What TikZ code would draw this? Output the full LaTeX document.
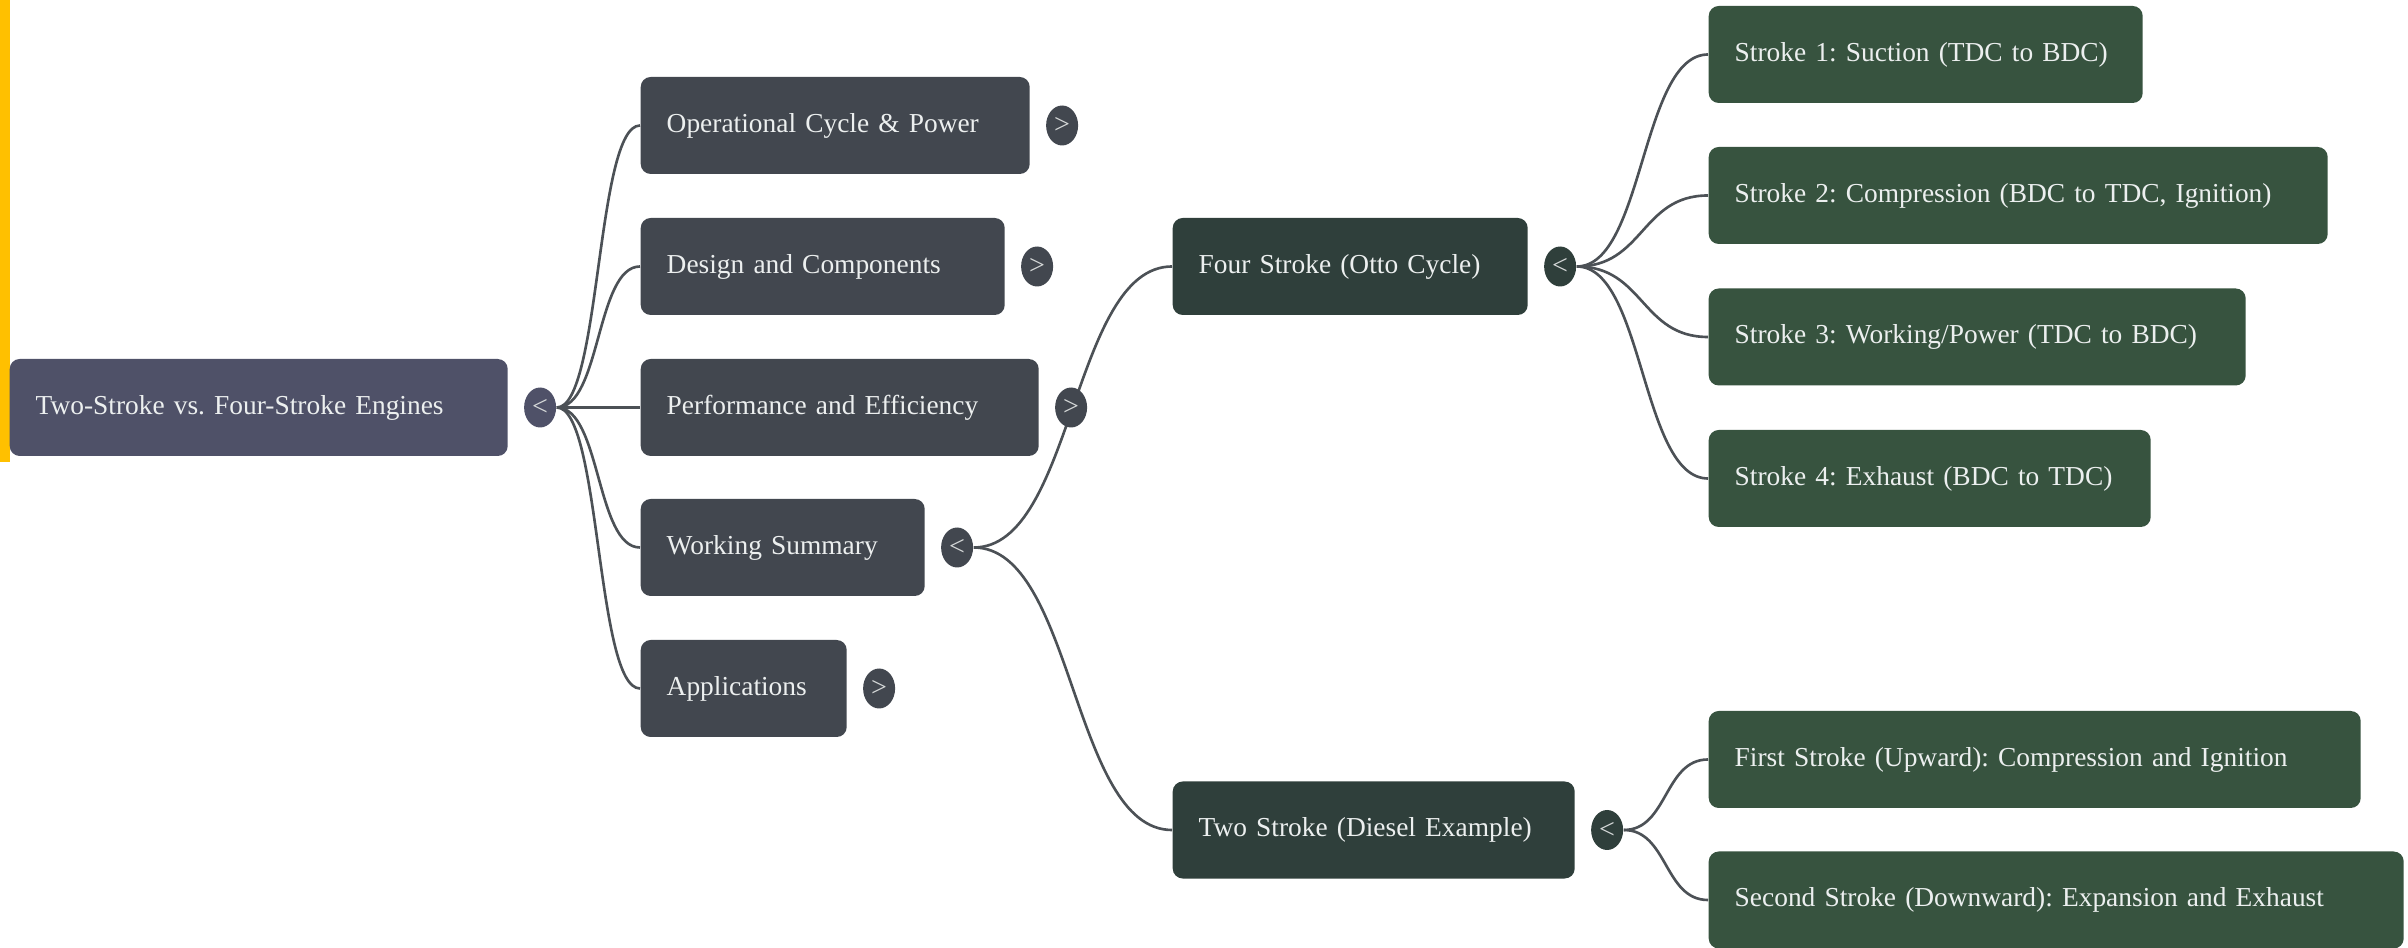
\documentclass[tikz,border=0pt]{standalone}
\usepackage{fontspec}
\setmainfont{Liberation Serif}
\usepackage{tikz}
\usetikzlibrary{shapes,backgrounds,positioning}
\definecolor{rootfill}{HTML}{4F5168}
\definecolor{topicfill}{HTML}{42474F}
\definecolor{subfill}{HTML}{2F3F3B}
\definecolor{leaffill}{HTML}{37533F}
\definecolor{wirec}{HTML}{4C5156}
\definecolor{barc}{HTML}{FFC000}
\definecolor{inkc}{HTML}{ECEFEF}
\def\blk#1#2#3#4#5{\node[#1,text width=#4cm] (#2) at (#3) {\mbox{#5}}}
\def\tog#1#2#3#4{\node[tog,fill=#3,right=0.15cm of #2] (#1) {#4}}
\def\wire#1#2#3{\draw[wire] (#1.east) .. controls +(#3,0) and +(-#3,0) .. (#2.west)}
\tikzstyle{card}=[rounded corners=0.1cm,minimum height=0.97cm,inner xsep=0.26cm,inner ysep=0pt,anchor=west,align=left,text=inkc,font=\fontsize{7.8}{9.4}\selectfont\frenchspacing]
\tikzstyle{root}=[card,fill=rootfill]
\tikzstyle{topic}=[card,fill=topicfill]
\tikzstyle{sub}=[card,fill=subfill]
\tikzstyle{leaf}=[card,fill=leaffill]
\tikzstyle{tog}=[ellipse,minimum width=0.32cm,minimum height=0.40cm,inner sep=0pt,text=inkc!80!gray,font=\fontsize{8}{8}\selectfont]
\tikzstyle{wire}=[draw=wirec,line width=0.75pt]

\begin{document}
\begin{tikzpicture}
    \useasboundingbox (0,0) rectangle (24.08,-9.48);
    \fill[barc] (0,0) rectangle (0.10,-4.62);
    % root and topics
    \blk{root}{eng}{0.09,-4.075}{4.46}{Two-Stroke vs. Four-Stroke Engines};
    \tog{engt}{eng}{rootfill}{<};
    \blk{topic}{op}{6.40,-1.255}{3.37}{Operational Cycle \& Power};
    \tog{opt}{op}{topicfill}{>};
    \blk{topic}{des}{6.40,-2.665}{3.12}{Design and Components};
    \tog{dest}{des}{topicfill}{>};
    \blk{topic}{perf}{6.40,-4.075}{3.46}{Performance and Efficiency};
    \tog{perft}{perf}{topicfill}{>};
    \blk{topic}{work}{6.40,-5.475}{2.32}{Working Summary};
    \tog{workt}{work}{topicfill}{<};
    \blk{topic}{app}{6.40,-6.885}{1.54}{Applications};
    \tog{appt}{app}{topicfill}{>};
    % the two cycles
    \blk{sub}{four}{11.72,-2.665}{3.03}{Four Stroke (Otto Cycle)};
    \tog{fourt}{four}{subfill}{<};
    \blk{sub}{two}{11.72,-8.30}{3.50}{Two Stroke (Diesel Example)};
    \tog{twot}{two}{subfill}{<};
    % strokes
    \blk{leaf}{s1}{17.08,-0.545}{3.82}{Stroke 1: Suction (TDC to BDC)};
    \blk{leaf}{s2}{17.08,-1.955}{5.67}{Stroke 2: Compression (BDC to TDC, Ignition)};
    \blk{leaf}{s3}{17.08,-3.37}{4.85}{Stroke 3: Working/Power (TDC to BDC)};
    \blk{leaf}{s4}{17.08,-4.785}{3.90}{Stroke 4: Exhaust (BDC to TDC)};
    \blk{leaf}{f1}{17.08,-7.595}{6.00}{First Stroke (Upward): Compression and Ignition};
    \blk{leaf}{f2}{17.08,-9.00}{6.43}{Second Stroke (Downward): Expansion and Exhaust};
    \begin{scope}[on background layer]
        \foreach \n in {op,des,perf,work,app} {\wire{engt}{\n}{0.44};}
        \foreach \n in {four,two} {\wire{workt}{\n}{1.0};}
        \foreach \n in {s1,s2,s3,s4} {\wire{fourt}{\n}{0.67};}
        \foreach \n in {f1,f2} {\wire{twot}{\n}{0.44};}
    \end{scope}
\end{tikzpicture}
\end{document}
